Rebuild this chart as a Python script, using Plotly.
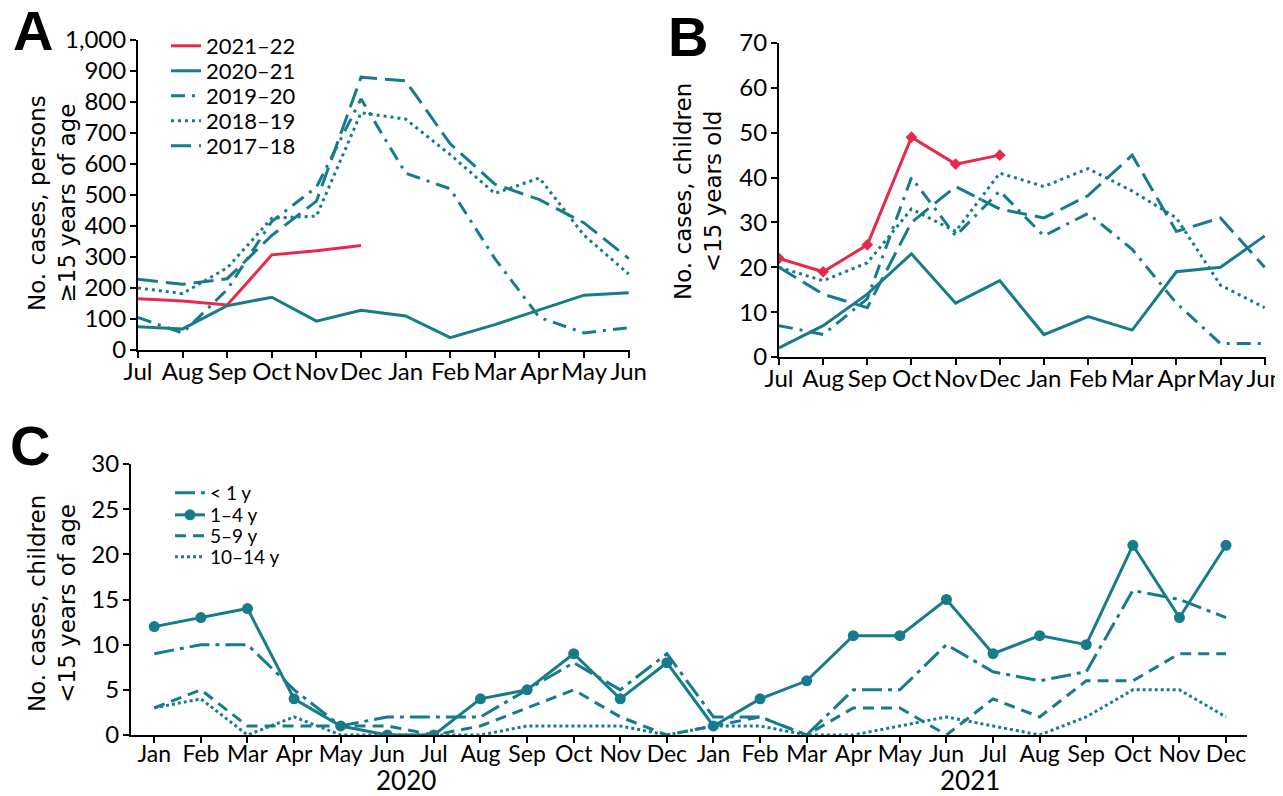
import plotly.graph_objects as go

# ---------------- data ----------------
season_months = ["Jul", "Aug", "Sep", "Oct", "Nov", "Dec", "Jan", "Feb", "Mar", "Apr", "May", "Jun"]
season_names = ["2021\u201322", "2020\u201321", "2019\u201320", "2018\u201319", "2017\u201318"]

# Panel A: persons >=15 years of age
a_2021_22 = [165, 158, 145, 307, 320, 337]
a_2020_21 = [75, 68, 143, 170, 93, 128, 110, 40, 82, 130, 177, 185]
a_2019_20 = [105, 55, 195, 415, 525, 810, 570, 520, 295, 105, 55, 72]
a_2018_19 = [200, 182, 265, 425, 432, 765, 745, 630, 505, 555, 370, 245]
a_2017_18 = [228, 212, 230, 370, 480, 880, 868, 665, 535, 485, 410, 295]

# Panel B: children <15 years old
b_2021_22 = [22, 19, 25, 49, 43, 45]
b_2020_21 = [2, 7, 14, 23, 12, 17, 5, 9, 6, 19, 20, 27]
b_2019_20 = [7, 5, 13, 40, 27, 37, 27, 32, 24, 12, 3, 3]
b_2018_19 = [20, 17, 21, 33, 28, 41, 38, 42, 37, 31, 16, 11]
b_2017_18 = [20, 14, 11, 30, 38, 33, 31, 36, 45, 28, 31, 20]

# Panel C: children by age group, Jan 2020 - Dec 2021
c_months = ["Jan", "Feb", "Mar", "Apr", "May", "Jun", "Jul", "Aug", "Sep", "Oct", "Nov", "Dec"] * 2
c_years = ["2020", "2021"]
age_names = ["< 1 y", "1\u20134 y", "5\u20139 y", "10\u201314 y"]
c_lt1 = [9, 10, 10, 5, 1, 2, 2, 2, 5, 8, 5, 9, 2, 2, 0, 5, 5, 10, 7, 6, 7, 16, 15, 13]
c_1to4 = [12, 13, 14, 4, 1, 0, 0, 4, 5, 9, 4, 8, 1, 4, 6, 11, 11, 15, 9, 11, 10, 21, 13, 21]
c_5to9 = [3, 5, 1, 1, 1, 1, 0, 1, 3, 5, 2, 0, 1, 2, 0, 3, 3, 0, 4, 2, 6, 6, 9, 9]
c_10to14 = [3, 4, 0, 2, 0, 0, 0, 0, 1, 1, 1, 0, 1, 1, 0, 0, 1, 2, 1, 0, 2, 5, 5, 2]

# ---------------- styles ----------------
TEAL = "#167b8b"
RED = "#e8294c"
OFF = 8                      # page body margin of the browser
W, H = 1283 - OFF, 796 - OFF
LW = 3
dash_styles = {
    "solid": "solid",
    "dashdot": "14px,7px,3px,7px",
    "dot": "3px,4px",
    "longdash": "20px,8px",
}
age_dashes = ["20px,6px,4px,6px", "solid", "11px,7px", "3px,3px"]

TICKFONT = dict(family="Lato, Open Sans, sans-serif", size=24, color="black")
TITLEFONT = dict(family="DejaVu Sans, Verdana, sans-serif", size=23, color="black")
LETTERFONT = dict(family="Liberation Sans, Arial, sans-serif", size=56, color="black")


def px_x(p):
    return (p - OFF) / W


def px_y(p):
    return 1 - (p - OFF) / H


fig = go.Figure()
xs = list(range(len(season_months)))

# one legend per entry so the entry spacing can follow the reference
legend_ids = ["legend", "legend2", "legend3", "legend4", "legend5",
              "legend6", "legend7", "legend8", "legend9"]

# Panel A
a_series = [a_2021_22, a_2020_21, a_2019_20, a_2018_19, a_2017_18]
a_colors = [RED, TEAL, TEAL, TEAL, TEAL]
a_dash = [dash_styles["solid"], dash_styles["solid"], dash_styles["dashdot"], dash_styles["dot"], dash_styles["longdash"]]
for i, (name, vals, col, d) in enumerate(zip(season_names, a_series, a_colors, a_dash)):
    fig.add_trace(go.Scatter(x=xs[:len(vals)], y=vals, mode="lines", name=name,
                             line=dict(color=col, width=LW, dash=d),
                             xaxis="x", yaxis="y", legend=legend_ids[i]))

# Panel B
b_series = [b_2021_22, b_2020_21, b_2019_20, b_2018_19, b_2017_18]
for i, (name, vals, col, d) in enumerate(zip(season_names, b_series, a_colors, a_dash)):
    fig.add_trace(go.Scatter(x=xs[:len(vals)], y=vals,
                             mode="lines+markers" if i == 0 else "lines",
                             name=name, showlegend=False,
                             marker=dict(symbol="diamond", size=9, color=col),
                             line=dict(color=col, width=LW, dash=d),
                             xaxis="x2", yaxis="y2"))

# Panel C
cx = list(range(len(c_months)))
c_series = [c_lt1, c_1to4, c_5to9, c_10to14]
for i, (name, vals, d) in enumerate(zip(age_names, c_series, age_dashes)):
    fig.add_trace(go.Scatter(x=cx, y=vals,
                             mode="lines+markers" if i == 1 else "lines",
                             name=name, legend=legend_ids[5 + i],
                             marker=dict(symbol="circle", size=11, color=TEAL),
                             line=dict(color=TEAL, width=LW, dash=d),
                             xaxis="x3", yaxis="y3"))

axis_common = dict(showline=True, linecolor="black", linewidth=2, ticks="outside",
                   ticklen=6, tickwidth=1.5, tickcolor="black", showgrid=False,
                   zeroline=False, tickfont=TICKFONT, automargin=False, tickangle=0,
                   ticklabeloverflow="allow")
xtick_extra = dict(ticklabelstandoff=-7)
ytick_extra = dict(ticklabelstandoff=-1)

layout = dict(
    width=W, height=H,
    margin=dict(l=0, r=0, t=0, b=0, autoexpand=False),
    paper_bgcolor="white", plot_bgcolor="white",
    xaxis=dict(axis_common, **xtick_extra, domain=[px_x(138), px_x(630)], range=[0, 11.03],
               tickvals=xs, ticktext=season_months, anchor="y"),
    yaxis=dict(axis_common, **ytick_extra, domain=[px_y(350), px_y(40)], range=[0, 1000],
               tickvals=list(range(0, 1001, 100)), tickformat=",d", anchor="x"),
    xaxis2=dict(axis_common, **xtick_extra, domain=[px_x(779), px_x(1266)], range=[0, 11.03],
                tickvals=xs, ticktext=season_months, anchor="y2"),
    yaxis2=dict(axis_common, **ytick_extra, domain=[px_y(357), px_y(43)], range=[0, 70],
                tickvals=list(range(0, 71, 10)), anchor="x2"),
    xaxis3=dict(axis_common, ticklabelstandoff=-9, domain=[px_x(131), px_x(1247)], range=[-0.5, 23.45],
                tickvals=cx, ticktext=c_months, anchor="y3",
                tickfont=dict(TICKFONT, size=23)),
    yaxis3=dict(axis_common, **ytick_extra, domain=[px_y(735), px_y(464)], range=[0, 30],
                tickvals=list(range(0, 31, 5)), anchor="x3"),
    showlegend=True,
)

# legend entries: centres in reference pixels
legA_y = [46, 71, 96, 121, 146]
legC_y = [493, 515, 536, 557]
for i, yy in enumerate(legA_y):
    layout[legend_ids[i]] = dict(x=px_x(166), y=px_y(yy), xanchor="left", yanchor="middle",
                                 bgcolor="rgba(0,0,0,0)", borderwidth=0,
                                 font=dict(family="Lato, sans-serif", size=22, color="black"),
                                 itemwidth=30)
for i, yy in enumerate(legC_y):
    layout[legend_ids[5 + i]] = dict(x=px_x(170), y=px_y(yy), xanchor="left", yanchor="middle",
                                     bgcolor="rgba(0,0,0,0)", borderwidth=0,
                                     font=dict(family="Lato, sans-serif", size=19, color="black"),
                                     itemwidth=30)
fig.update_layout(**layout)

annotations = [
    # panel letters
    dict(text="<b>A</b>", x=px_x(11), y=px_y(-3), xanchor="left", yanchor="top", font=LETTERFONT),
    dict(text="<b>B</b>", x=px_x(666), y=px_y(3), xanchor="left", yanchor="top", font=LETTERFONT),
    dict(text="<b>C</b>", x=px_x(8), y=px_y(412), xanchor="left", yanchor="top", font=LETTERFONT),
    # axis titles
    dict(text="No. cases, persons<br>\u226515 years of age", x=px_x(52), y=px_y(203),
         textangle=-90, font=TITLEFONT, xanchor="center", yanchor="middle"),
    dict(text="No. cases, children<br><15 years old", x=px_x(698), y=px_y(192),
         textangle=-90, font=TITLEFONT, xanchor="center", yanchor="middle"),
    dict(text="No. cases, children<br><15 years of age", x=px_x(52), y=px_y(604),
         textangle=-90, font=TITLEFONT, xanchor="center", yanchor="middle"),
    # year labels
    dict(text=c_years[0], x=5.4, y=px_y(780), xref="x3", yanchor="middle", xanchor="center",
         font=dict(family="Lato, sans-serif", size=26, color="black")),
    dict(text=c_years[1], x=17.5, y=px_y(780), xref="x3", yanchor="middle", xanchor="center",
         font=dict(family="Lato, sans-serif", size=26, color="black")),
]
for a in annotations:
    a.setdefault("xref", "paper")
    a.setdefault("yref", "paper")
    a["showarrow"] = False
fig.update_layout(annotations=annotations)

fig.write_html("out.html")
